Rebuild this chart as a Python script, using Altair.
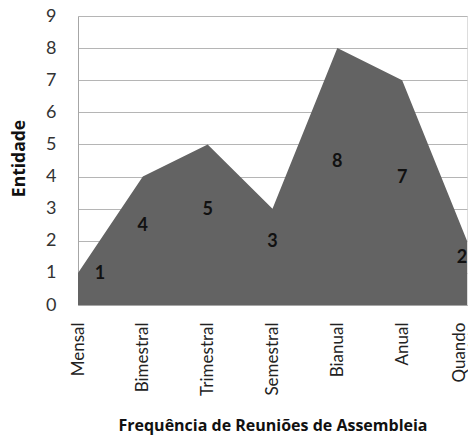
import altair as alt
import pandas as pd

categorias = ["Mensal", "Bimestral", "Trimestral", "Semestral", "Bianual", "Anual", "Quando necessário"]
entidades = [1, 4, 5, 3, 8, 7, 2]

df = pd.DataFrame({"freq": categorias, "n": entidades})

x_scale = alt.Scale(type="point", padding=0)
y_scale = alt.Scale(domain=[0, 9], nice=False)

x_axis = alt.Axis(
    title="Frequência de Reuniões de Assembleia",
    labelAngle=-90,
    labelAlign="right",
    labelBaseline="middle",
    labelFont="Lato",
    labelFontSize=17,
    labelColor="#222222",
    labelPadding=17,
    labelLineHeight=16,
    labelExpr="datum.label == 'Quando necessário' ? ['Quando', 'necessário'] : datum.label",
    labelOffset={"condition": {"test": "datum.value == 'Quando necessário'", "value": -8}, "value": 0},
    tickSize=0,
    ticks=False,
    domain=True,
    domainColor="#a6a6a6",
    grid=False,
    titleFont="Open Sans",
    titleFontWeight="bold",
    titleFontSize=16,
    titleColor="#111111",
    titleBaseline="middle",
    titleY=120,
    labelOverlap=False,
    labelBound=False,
)

y_axis = alt.Axis(
    title="Entidade",
    values=list(range(10)),
    labelOverlap=False,
    labelFont="Lato",
    labelFontSize=18,
    labelColor="#333333",
    labelPadding=22,
    tickSize=0,
    ticks=False,
    domain=True,
    domainColor="#a6a6a6",
    grid=True,
    gridColor="#b5b5b5",
    gridWidth=1,
    titleFont="Open Sans",
    titleFontWeight="bold",
    titleFontSize=17.5,
    titleColor="#111111",
    titleX=-59,
    titleY=142,
    titleBaseline="middle",
    titleAngle=-90,
)

area = alt.Chart(df).mark_area(color="#636363", opacity=1, interpolate="linear").encode(
    x=alt.X("freq:N", sort=categorias, scale=x_scale, axis=x_axis),
    y=alt.Y("n:Q", scale=y_scale, axis=y_axis),
)

base_text = alt.Chart(df).transform_calculate(ly="datum.n / 2 + 0.45")

def label_layer(filter_expr, dx):
    return base_text.transform_filter(filter_expr).mark_text(
        font="Lato", fontSize=18, fontWeight="bold", color="#111111",
        baseline="middle", align="center", dx=dx
    ).encode(
        x=alt.X("freq:N", sort=categorias, scale=x_scale, axis=x_axis),
        y=alt.Y("ly:Q", scale=y_scale, axis=y_axis),
        text=alt.Text("n:Q"),
    )

first = label_layer(f"datum.freq == '{categorias[0]}'", 22)
last = label_layer(f"datum.freq == '{categorias[-1]}'", -5)
middle = label_layer(
    f"datum.freq != '{categorias[0]}' && datum.freq != '{categorias[-1]}'", 0
)

chart = alt.layer(area, first, middle, last).properties(
    width=389,
    height=289,
    autosize=alt.AutoSizeParams(type="none"),
    padding={"left": 70, "top": 8, "right": 1, "bottom": 130},
).configure_view(stroke=None).configure(background="white")

chart.save("out.html", embed_options={"renderer": "svg", "actions": False})
